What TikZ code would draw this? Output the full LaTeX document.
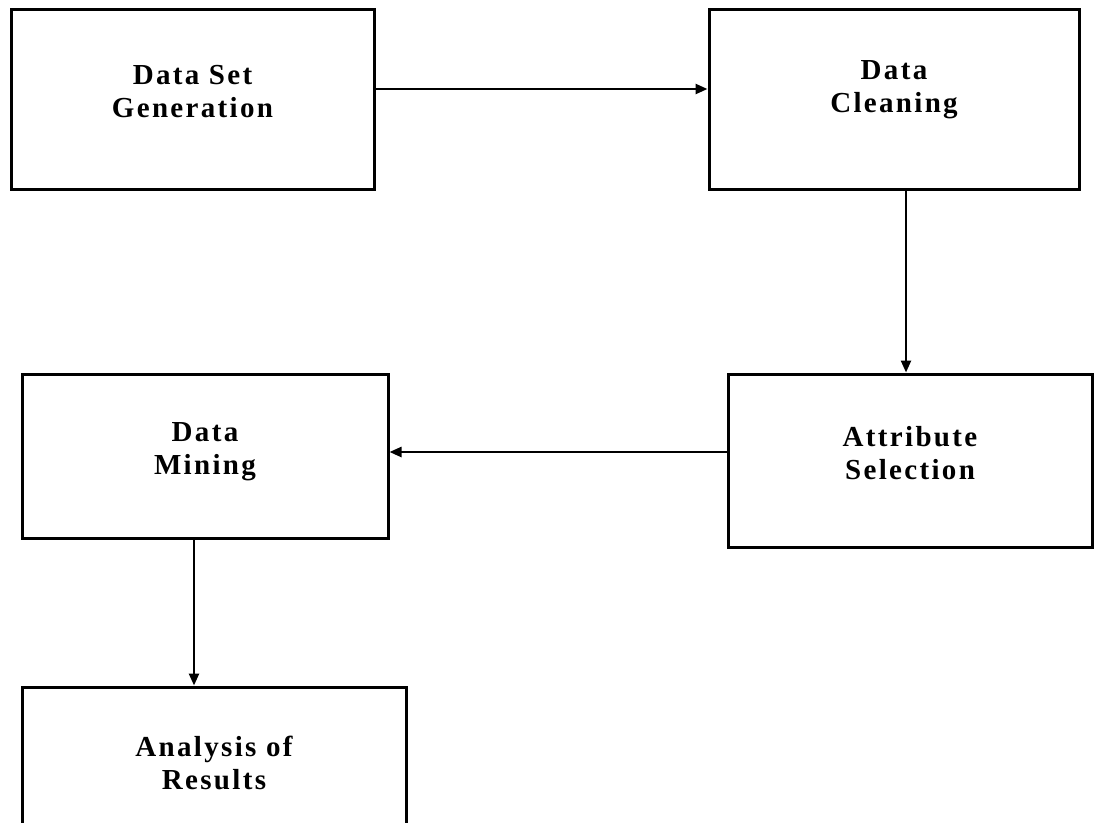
\documentclass[tikz,border=0pt]{standalone}
\usepackage{fontspec}
\setmainfont{Liberation Serif}
\newfontfamily\stagefont{Liberation Serif}[LetterSpace=8]
\usetikzlibrary{arrows.meta}
\begin{document}
\begin{tikzpicture}[x=1pt, y=-1pt,
	stagebox/.style={draw, line width=3pt, inner sep=0pt, align=center, text depth=15pt,
		font=\stagefont\bfseries\fontsize{29}{33}\selectfont},
	flow/.style={line width=2.4pt, -{Triangle[length=12pt, width=10pt]}}]
	\useasboundingbox (0,0) rectangle (1094,822);
	% stages
	\node[stagebox, minimum width=363pt, minimum height=180pt] (gen) at (192.5,99) {Data Set\\Generation};
	\node[stagebox, minimum width=370pt, minimum height=180pt, text depth=25pt] (clean) at (894,99) {Data\\Cleaning};
	\node[stagebox, minimum width=364pt, minimum height=173pt] (attr) at (910,460.5) {Attribute\\Selection};
	\node[stagebox, minimum width=366pt, minimum height=164pt] (mine) at (205,456) {Data\\Mining};
	\node[stagebox, minimum width=384pt, minimum height=166pt] (res) at (214,770) {Analysis of\\Results};
	% connectors
	\draw[flow] ([yshift=10pt]gen.east) -- ([yshift=10pt]gen.east -| clean.west);
	\draw[flow] ([xshift=12pt]clean.south) -- ([xshift=12pt]clean.south |- attr.north);
	\draw[flow] ([yshift=8.5pt]attr.west) -- ([yshift=8.5pt]attr.west -| mine.east);
	\draw[flow] ([xshift=-11pt]mine.south) -- ([xshift=-11pt]mine.south |- res.north);
\end{tikzpicture}
\end{document}
